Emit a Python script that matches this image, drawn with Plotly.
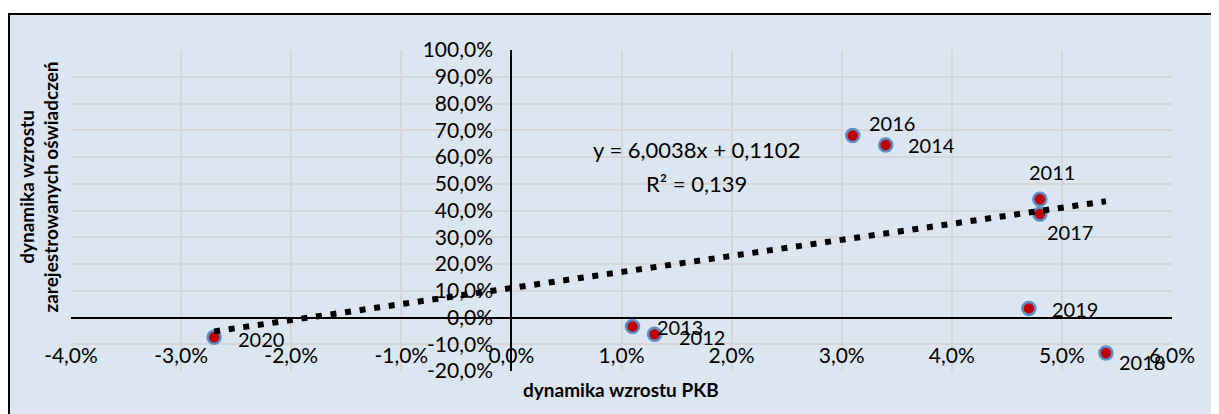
import plotly.graph_objects as go
import numpy as np

# ---- data ----
years = ["2011", "2012", "2013", "2014", "2016", "2017", "2018", "2019", "2020"]
gdp_growth = [0.048, 0.013, 0.011, 0.034, 0.031, 0.048, 0.054, 0.047, -0.027]
decl_growth = [0.442, -0.063, -0.034, 0.645, 0.680, 0.387, -0.133, 0.034, -0.074]
trend_slope = 6.0038
trend_intercept = 0.1102
r_squared = "0,139"
x_ticks = [-0.04, -0.03, -0.02, -0.01, 0.0, 0.01, 0.02, 0.03, 0.04, 0.05, 0.06]
y_ticks = [-0.2, -0.1, 0.0, 0.1, 0.2, 0.3, 0.4, 0.5, 0.6, 0.7, 0.8, 0.9, 1.0]

def pct(v):
    return f"{v * 100:.1f}%".replace(".", ",")

x_tick_labels = [pct(v) for v in x_ticks]
y_tick_labels = [pct(v) for v in y_ticks]

# label placement (pixel offsets from point), layout only
label_offsets = {
    "2011": (12, 27), "2012": (47, -3), "2013": (47, 0), "2014": (46, 0),
    "2016": (39, 13), "2017": (30, -18), "2018": (36, -9), "2019": (46, -1),
    "2020": (47, -2),
}

O = 8  # page body margin
W, H = 1219 - O, 414 - O
L, R, T, B = 71, 1172, 50, 371  # page pixel coordinates of plot area
pw, ph = R - L, B - T
def px_x(p):
    return (p - L) / pw
def px_y(p):
    return (B - p) / ph

FONT = "Lato, 'Open Sans', sans-serif"
BG = "#DCE6F1"

fig = go.Figure()

fig.add_trace(go.Scatter(
    x=gdp_growth, y=decl_growth, mode="markers",
    marker=dict(size=13, color="#C00000", line=dict(color="#5B8FC9", width=2.5)),
    showlegend=False, hoverinfo="skip",
))

tx = np.array([min(gdp_growth), max(gdp_growth)])
fig.add_trace(go.Scatter(
    x=tx, y=trend_slope * tx + trend_intercept, mode="lines",
    line=dict(color="black", width=6, dash="6px,8.7px"),
    showlegend=False, hoverinfo="skip",
))

ann = []
for yr, xv, yv in zip(years, gdp_growth, decl_growth):
    dx, dy = label_offsets[yr]
    ann.append(dict(x=xv, y=yv, xref="x", yref="y", text=yr, showarrow=False,
                    xshift=dx, yshift=dy, xanchor="center", yanchor="middle",
                    font=dict(family=FONT, size=20, color="black")))

eq = "y = {}x + {}".format(f"{trend_slope:.4f}".replace(".", ","),
                            f"{trend_intercept:.4f}".replace(".", ","))
ann.append(dict(x=px_x(696), y=px_y(149), xref="paper", yref="paper", text=eq,
                showarrow=False, xanchor="center", yanchor="middle",
                font=dict(family=FONT, size=22, color="black")))
ann.append(dict(x=px_x(696), y=px_y(183), xref="paper", yref="paper",
                text="R² = " + r_squared,
                showarrow=False, xanchor="center", yanchor="middle",
                font=dict(family=FONT, size=22, color="black")))
ann.append(dict(x=px_x(38.5), y=px_y(187), xref="paper", yref="paper",
                text="<b>dynamika wzrostu</b><br><b>zarejestrowanych oświadczeń</b>",
                textangle=-90, showarrow=False, xanchor="center", yanchor="middle",
                font=dict(family=FONT, size=19, color="black")))
ann.append(dict(x=px_x(621), y=px_y(390), xref="paper", yref="paper",
                text="<b>dynamika wzrostu PKB</b>",
                showarrow=False, xanchor="center", yanchor="middle",
                font=dict(family=FONT, size=19, color="black")))
ann.append(dict(x=px_x(230), y=px_y(O + 2), xref="paper", yref="paper",
                text="<b>2011 - 2020</b>",
                showarrow=False, xanchor="center", yanchor="bottom",
                font=dict(family=FONT, size=24, color="black")))

shapes = [dict(type="rect", xref="paper", yref="paper", layer="below",
               x0=px_x(9), x1=px_x(1240), y0=px_y(440), y1=px_y(14),
               fillcolor=BG, line=dict(color="black", width=2))]

fig.update_layout(
    width=W, height=H,
    margin=dict(l=L - O, r=1219 - R, t=T - O, b=414 - B, pad=0),
    paper_bgcolor="white", plot_bgcolor=BG,
    annotations=ann, shapes=shapes,
    xaxis=dict(range=[-0.04, 0.06], tickvals=x_ticks, ticktext=x_tick_labels,
               showgrid=True, gridcolor="#D6D6D6", gridwidth=1.5,
               zeroline=True, zerolinecolor="black", zerolinewidth=1.5,
               showline=False, ticks="", anchor="free", position=px_y(341),
               tickfont=dict(family=FONT, size=21, color="black")),
    yaxis=dict(range=[-0.2, 1.0], tickvals=y_ticks, ticktext=y_tick_labels,
               showgrid=True, gridcolor="#D6D6D6", gridwidth=1.5,
               zeroline=True, zerolinecolor="black", zerolinewidth=1.5,
               showline=False, ticks="", anchor="free", position=px_x(511),
               ticklabelstandoff=18,
               tickfont=dict(family=FONT, size=21, color="black")),
    font=dict(family=FONT),
)

fig.write_html("out.html")
